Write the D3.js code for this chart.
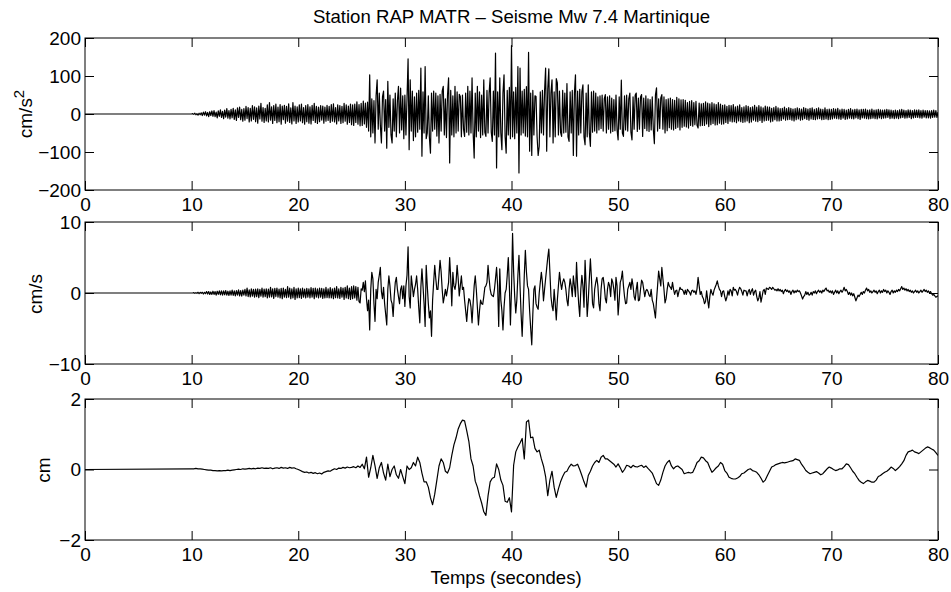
<!DOCTYPE html>
<html>
<head>
<meta charset="utf-8">
<script src="https://cdnjs.cloudflare.com/ajax/libs/d3/7.8.5/d3.min.js"></script>
<style>
  body { margin: 0; background: #fff; }
  svg { font-family: "Liberation Sans", Arial, sans-serif; }
</style>
</head>
<body>
<div class="seismo_area"></div>
<script>

var title = "Station RAP MATR \u2013 Seisme Mw 7.4 Martinique";
var xLabel = "Temps (secondes)";
var xTicks = [0, 10, 20, 30, 40, 50, 60, 70, 80];

// records are flat (0) before recordStart
var recordStart = 10;

// acceleration, cm/s2, one value every 0.1 s from 10 s
var accStep = 0.1;
var accTicks = [-200, -100, 0, 100, 200];
var accValues = [
  0,1,-1,2,-2,1,-3,2,-2,3,
  -4,5,-3,6,-5,4,-7,6,-4,8,
  -6,9,-7,5,-10,8,-6,11,-9,7,
  -12,10,-8,14,-11,9,-13,12,-10,15,
  -14,11,-17,16,-9,18,-15,12,-19,14,
  -16,20,-12,17,-21,15,-18,22,-14,19,
  -20,16,-24,21,-13,28,-19,17,-22,15,
  -18,24,-21,30,-16,19,-25,22,-17,26,
  -23,18,-20,25,-27,21,-15,23,-24,20,
  -19,27,-22,16,-26,30,-18,21,-25,19,
  -21,24,-18,26,-23,17,-27,22,-20,25,
  -24,19,-26,23,-17,28,-22,20,-25,18,
  -20,22,-16,21,-24,18,-19,23,-17,20,
  -22,25,-19,27,-21,17,-26,24,-18,22,
  -25,20,-23,28,-19,24,-27,21,-22,26,
  -28,24,-30,26,-22,32,-27,25,-31,28,
  -30,34,-26,29,-35,31,-45,103,-60,40,
  -50,35,-76,48,90,-40,55,-30,-76,45,
  60,-45,38,-90,86,-35,50,-55,-76,40,
  -45,55,-60,35,73,-50,68,-42,48,-65,
  50,-55,40,145,-94,90,-45,60,-70,45,
  -60,55,-48,62,-40,121,-111,58,-50,125,
  -65,-50,48,-62,-103,55,-45,60,-40,55,
  -58,48,-76,52,-45,60,73,-55,40,-62,
  50,95,-129,62,-55,48,-60,73,-50,58,
  -45,52,46,-60,50,-40,-59,55,-48,73,
  -55,60,-50,95,-48,-116,55,-60,73,-45,
  58,-62,50,-55,90,-48,-59,62,-50,55,
  95,-48,-72,60,-55,160,-142,58,-60,95,
  -50,-94,55,103,-60,-103,62,-55,70,-65,
  180,-60,58,-65,70,-50,125,-155,121,-55,
  60,-50,65,-58,72,-60,162,-98,55,-109,
  62,-55,48,46,-60,-109,-85,58,-50,62,
  -55,60,121,-98,65,119,-60,55,90,-76,
  58,-60,93,82,-55,60,-48,-59,62,-50,
  55,-48,80,-60,-72,58,-50,62,-109,55,
  103,-111,60,-55,65,-50,58,77,-60,-81,
  55,-60,77,-50,-85,58,-48,60,-45,55,
  -50,45,-42,48,-38,50,-45,40,51,-50,
  45,-40,48,-50,42,-46,38,-44,50,-42,
  -68,45,-40,89,-50,-59,48,-42,50,-45,
  40,55,-48,-68,45,-40,50,55,-46,42,
  -40,45,51,-59,42,-38,48,-44,40,-46,
  38,-42,45,-40,-78,50,69,-45,40,-38,
  42,51,-40,45,-50,38,-44,40,-36,42,
  -40,38,-42,36,-38,44,-35,40,-42,37,
  -35,38,-32,36,-34,30,-37,33,-30,35,
  -32,30,-28,33,-30,-37,29,-31,27,-30,
  28,-30,32,-26,29,-33,27,-28,30,-25,
  27,-29,25,-28,30,-24,26,-27,23,-26,
  24,-22,20,-25,23,-19,22,-21,25,-20,
  19,-23,21,-18,24,-20,17,-22,19,-21,
  22,-18,20,-23,17,-21,19,-16,23,-19,
  18,-20,22,-17,19,-22,16,-18,21,-17,
  19,-16,18,-21,15,-19,17,-15,20,-18,
  16,-18,14,-17,15,-13,18,-16,14,-15,
  17,-14,15,-16,13,-18,14,-15,16,-13,
  14,-16,13,-15,17,-12,15,-14,13,-16,
  15,-13,16,-14,12,-15,14,-13,16,-12,
  13,-15,12,-14,16,-13,12,-15,13,-14,
  12,-13,14,-11,13,-12,15,-13,11,-14,
  13,-11,12,-14,10,-13,12,-11,14,-12,
  11,-13,12,-10,13,-12,11,-14,12,-10,
  12,-11,13,-12,10,-13,11,-12,13,-11,
  10,-12,11,-13,12,-10,11,-12,10,-11,
  11,-10,12,-9,11,-12,10,-11,9,-12,
  10,-11,9,-12,11,-10,12,-9,10,-11,
  9,-10,11,-9,10,-12,9,-10,11,-9,
  10,-9,11,-10,9,-11,10,-8,9,-10,
  9,-10,8,-11,9,-9,10,-8,9,-9,
  5
];

// velocity, cm/s, one value every 0.1 s from 10 s
var velStep = 0.1;
var velTicks = [-10, 0, 10];
var velValues = [
  0,0,0.05,-0.05,0.05,-0.05,0.1,-0.1,0.1,-0.05,
  0.1,-0.15,0.1,-0.1,0.2,-0.15,0.2,-0.2,0.15,-0.2,
  0.25,-0.2,0.2,-0.3,0.25,-0.2,0.3,-0.25,0.3,-0.3,
  0.3,-0.25,0.35,-0.3,0.25,-0.35,0.3,-0.3,0.4,-0.35,
  0.3,-0.4,0.35,-0.3,0.45,-0.4,0.35,-0.45,0.4,-0.3,
  0.5,-0.4,0.7,-0.5,0.45,-0.55,0.6,-0.45,0.5,-0.6,
  0.55,-0.5,0.6,-0.65,0.5,-0.45,0.7,-0.6,0.55,-0.5,
  0.6,-0.7,0.55,-0.6,0.8,-0.55,0.6,-0.75,0.65,-0.5,
  0.7,-0.6,0.55,-0.7,0.65,-0.8,0.7,-0.6,0.5,-0.65,
  0.9,-0.6,0.7,-0.8,0.6,-0.7,0.8,-0.9,0.6,-0.7,
  0.7,-0.65,0.6,-0.75,0.7,-0.6,0.55,-0.7,0.65,-0.6,
  0.6,-0.7,0.75,-0.6,0.65,-0.8,0.7,-0.6,0.6,-0.7,
  0.7,-0.6,0.65,-0.75,0.6,-0.7,0.8,-0.65,0.6,-0.7,
  0.75,-0.7,0.6,-0.8,0.7,-0.65,0.9,-0.7,0.6,-0.75,
  0.8,-0.6,0.7,-0.9,0.8,-0.7,1.0,-0.8,0.7,-0.9,
  0.9,-0.8,1.0,-0.7,0.9,-1.0,0.8,-1.2,-1.4,0.6,
  0.4,1.5,0.2,1.7,-0.8,-2.5,-1.0,-5.2,0.5,2.9,
  2.0,-1.5,-4.0,0.5,-0.8,1.5,2.5,3.6,0.2,-0.8,
  0.8,-1.5,-3.0,-4.5,0.5,2.4,1.0,-1.0,-1.5,-3.3,
  -0.5,1.5,2.2,0.5,-0.5,-1.5,0.5,1.0,-0.8,1.0,
  -1.9,1.0,2.5,6.5,-0.5,-2.1,2.4,1.0,-0.5,0.5,
  1.2,2.4,0.5,-2.0,-4.2,0.8,3.4,1.0,-1.5,-4.7,
  3.9,1.0,-1.5,-3.5,-2.5,-6.1,-1.0,1.5,3.9,2.0,
  0.5,0.5,2.5,4.6,3.0,0.5,-1.4,-0.5,0.5,-0.4,
  0.5,1.5,5.0,2.0,-1.8,2.9,1.0,0.5,1.5,3.9,
  2.0,-0.4,1.0,2.4,0.5,0.8,-1.0,-2.5,-4.0,-2.0,
  -0.8,-1.0,-2.0,-4.2,-1.5,1.0,2.4,0.5,-2.0,-4.5,
  -2.5,-1.0,-1.5,-1.6,-0.5,0.8,1.0,1.5,3.9,2.0,
  0.5,-0.2,-0.4,-0.5,0.5,2.0,3.6,1.0,-4.7,3.4,
  -1.0,-2.5,-5.2,-2.0,0.0,0.5,2.5,5.0,1.0,-4.5,
  0.5,8.4,3.0,-0.5,-2.8,-1.0,2.5,5.3,1.0,-3.0,
  -6.1,-2.0,2.5,6.0,3.0,1.0,0.5,-2.5,-5.0,-7.3,
  -3.0,0.5,1.0,-1.5,-2.0,-2.3,0.0,1.5,2.9,1.5,
  -1.1,0.5,2.0,3.5,5.0,6.2,3.0,-0.5,-1.8,-2.5,
  0.5,-1.5,-3.8,-1.0,1.0,2.9,1.5,0.5,1.5,2.0,
  1.5,0.5,-1.0,-1.8,0.5,2.0,1.0,-0.5,2.4,1.0,
  -0.5,4.3,1.0,-1.5,-3.3,0.5,2.5,1.0,-2.0,4.6,
  1.0,-3.3,-1.0,2.0,4.8,2.0,-1.5,-2.1,0.5,1.5,
  2.2,1.0,-1.5,-2.5,0.5,2.0,2.2,1.0,-0.8,-1.4,
  0.5,1.5,1.0,-0.5,2.0,1.5,0.5,-1.0,2.2,1.0,
  -3.1,-1.0,1.5,2.0,3.1,1.0,-0.5,-1.5,-1.4,0.5,
  1.0,1.5,0.5,2.0,1.0,-0.5,-1.0,0.5,1.5,-1.1,
  -1.0,0.5,1.8,1.5,0.5,-0.5,0.3,0.5,0.2,-0.3,
  -0.5,0.5,-1.0,-1.5,-2.5,-3.5,-1.0,1.0,3.1,2.0,
  1.0,3.6,2.0,0.5,-1.4,-0.8,0.5,1.5,1.0,0.8,
  0.5,1.5,0.5,-0.2,0.3,0.4,-0.5,0.2,0.8,0.5,
  0.5,0.3,-0.2,0.4,-0.2,0.5,0.3,0.1,-0.3,0.3,
  0.4,0.1,0.3,-0.2,0.6,2.2,1.0,-0.2,0.2,-0.5,
  -0.8,-1.5,-1.2,0.3,-1.0,-2.1,-0.5,0.5,0.0,-0.3,
  0.4,0.8,1.2,1.7,1.0,0.5,0.3,-0.5,0.2,0.3,
  -0.5,-1.1,-0.6,0.3,-0.3,0.5,0.3,-0.4,0.8,0.4,
  0.5,0.2,-0.3,0.4,0.8,0.6,0.2,-0.3,0.4,0.3,
  0.3,-0.4,0.2,0.5,-0.2,0.3,0.6,-0.3,0.2,0.4,
  -0.5,-1.1,-0.7,0.2,-1.3,-0.5,0.3,0.5,-0.2,0.7,
  0.6,0.5,0.8,0.7,0.5,0.8,0.6,0.4,0.5,0.3,
  0.6,0.3,0.5,0.2,0.4,-0.1,0.3,0.5,0.2,0.4,
  0.1,0.3,-0.2,0.2,0.4,0.0,0.3,0.1,0.4,0.2,
  0.3,0.0,-0.4,-0.85,-0.5,-0.3,0.2,-0.2,0.1,-0.3,
  -0.2,0.1,-0.3,0.2,0.0,0.3,-0.1,0.2,0.4,0.1,
  0.3,0.0,0.4,0.2,0.5,0.7,0.3,0.4,0.1,0.3,
  0.0,0.3,-0.2,0.1,0.4,0.0,0.3,-0.1,0.2,0.4,
  0.1,0.4,0.8,0.3,0.5,0.2,-0.2,0.1,-0.3,0.0,
  -0.4,-0.1,-0.6,-1.1,-0.7,-0.3,-0.5,-0.2,0.1,-0.2,
  0.2,0.0,0.4,0.7,0.3,0.5,0.1,0.3,0.0,0.2,
  0.4,0.1,0.3,-0.1,0.2,0.4,0.0,0.3,0.1,0.5,
  0.2,0.4,0.0,0.3,0.1,-0.2,0.2,0.4,0.0,0.3,
  0.1,0.4,0.2,0.5,0.3,0.6,0.9,0.5,0.7,0.4,
  0.6,0.3,0.5,0.2,0.4,0.1,0.3,0.0,0.2,0.4,
  0.1,0.3,0.0,0.2,0.4,0.1,0.3,0.5,0.2,0.4,
  0.1,0.3,0.0,0.2,-0.1,-0.3,-0.2,-0.4,-0.6,-0.5,
  -0.4
];

// displacement, cm, one value every 0.2 s from 10 s
var dispStep = 0.2;
var dispTicks = [-2, 0, 2];
var dispValues = [
  0.02,0.02,0.03,0.02,0.02,
  0.01,0.0,-0.01,-0.02,-0.02,
  -0.03,-0.03,-0.04,-0.03,-0.04,
  -0.03,-0.03,-0.02,-0.03,-0.02,
  -0.01,0.0,0.01,0.0,0.02,
  0.01,0.02,0.03,0.02,0.03,
  0.02,0.04,0.03,0.05,0.03,
  0.04,0.03,0.05,0.02,0.04,
  0.05,0.03,0.06,0.04,0.05,
  0.03,0.06,0.04,0.05,0.02,
  0.0,-0.03,-0.06,-0.08,-0.07,
  -0.1,-0.08,-0.11,-0.09,-0.12,
  -0.1,-0.13,-0.08,-0.06,-0.04,
  -0.05,-0.01,0.02,0.0,0.04,
  0.03,0.06,0.04,0.07,0.05,
  0.06,0.08,0.05,0.1,0.06,
  0.15,0.02,0.35,-0.22,0.05,
  0.4,0.1,-0.25,0.05,0.2,
  -0.1,-0.3,0.15,-0.2,0.0,
  0.1,-0.15,-0.25,0.0,-0.2,
  -0.4,0.1,0.0,0.05,0.2,
  0.1,0.35,0.2,-0.1,-0.35,
  -0.35,-0.5,-0.8,-1.0,-0.7,
  -0.3,0.1,0.3,0.2,-0.05,
  -0.1,0.05,0.4,0.7,0.9,
  1.15,1.3,1.4,1.38,1.1,
  0.8,0.3,0.1,-0.33,-0.5,
  -0.75,-0.95,-1.2,-1.3,-0.75,
  -0.35,-0.25,-0.22,0.16,0.0,
  -0.3,-0.45,-0.9,-0.93,-0.8,
  -1.2,0.12,0.5,0.64,0.75,
  0.88,0.3,1.35,1.4,0.9,
  0.92,0.6,0.5,0.55,0.3,
  0.1,-0.2,-0.74,-0.3,-0.05,
  -0.5,-0.79,-0.55,-0.35,-0.2,
  -0.08,-0.05,0.07,0.15,0.1,
  0.11,0.15,0.0,-0.17,-0.35,
  -0.5,-0.17,-0.05,0.1,0.2,
  0.26,0.2,0.35,0.4,0.3,
  0.3,0.25,0.2,0.15,0.07,
  0.16,0.05,-0.08,0.0,0.12,
  0.1,0.05,0.12,0.08,0.07,
  0.1,0.12,0.06,0.1,0.03,
  -0.03,-0.1,-0.25,-0.4,-0.45,
  -0.3,-0.08,0.1,0.2,0.26,
  0.1,0.02,0.08,0.1,0.05,
  0.0,-0.12,-0.1,-0.08,-0.1,
  -0.08,0.05,0.2,0.25,0.35,
  0.33,0.25,0.2,0.05,-0.08,
  -0.02,0.05,0.1,0.2,0.15,
  -0.03,-0.1,-0.22,-0.25,-0.27,
  -0.27,-0.24,-0.2,-0.12,-0.1,
  -0.05,0.0,0.02,-0.03,-0.05,
  -0.08,-0.15,-0.25,-0.36,-0.3,
  -0.17,-0.05,0.07,0.1,0.14,
  0.16,0.18,0.2,0.19,0.2,
  0.22,0.24,0.25,0.3,0.28,
  0.26,0.15,0.07,-0.03,-0.08,
  -0.12,-0.1,-0.08,-0.06,-0.1,
  -0.15,-0.12,-0.05,0.02,0.07,
  0.04,0.0,-0.03,-0.01,0.02,
  0.02,0.08,0.16,0.14,0.05,
  -0.05,-0.12,-0.22,-0.31,-0.36,
  -0.4,-0.35,-0.31,-0.33,-0.36,
  -0.36,-0.3,-0.2,-0.17,-0.12,
  -0.08,-0.05,0.0,0.07,0.03,
  -0.03,0.02,0.08,0.16,0.25,
  0.4,0.5,0.52,0.55,0.5,
  0.48,0.45,0.5,0.55,0.6,
  0.64,0.62,0.58,0.55,0.48,
  0.4
];


var width = 951, height = 592;
var left = 85, right = 938, tick = 9;
var fmt = d3.format("~g");

var svg = d3.select(".seismo_area").append("svg")
    .attr("width", width)
    .attr("height", height);

var x = d3.scaleLinear().domain([0, 80]).range([left, right]);

var panels = [
  {top: 38, bottom: 190, values: accValues, step: accStep, ticks: accTicks, unit: "cm/s", sup: "2", labelX: 32, labelY: 114},
  {top: 222, bottom: 364, values: velValues, step: velStep, ticks: velTicks, unit: "cm/s", sup: "", labelX: 42, labelY: 294},
  {top: 399, bottom: 540, values: dispValues, step: dispStep, ticks: dispTicks, unit: "cm", sup: "", labelX: 50, labelY: 470}
];

function drawPanel(p, i) {
  var y = d3.scaleLinear()
      .domain([p.ticks[0], p.ticks[p.ticks.length - 1]])
      .range([p.bottom, p.top]);

  var g = svg.append("g").attr("class", "panel" + i);

  g.append("clipPath").attr("id", "clip" + i)
    .append("rect")
      .attr("x", left).attr("y", p.top)
      .attr("width", right - left).attr("height", p.bottom - p.top);

  // flat record before the trigger, then the samples
  var pts = [[0, 0]];
  p.values.forEach(function(v, k) {
    pts.push([recordStart + k * p.step, v]);
  });

  var line = d3.line()
      .x(function(d) { return x(d[0]); })
      .y(function(d) { return y(d[1]); });

  g.append("path")
      .datum(pts)
      .attr("clip-path", "url(#clip" + i + ")")
      .attr("fill", "none")
      .attr("stroke", "#000")
      .attr("stroke-width", 1.2)
      .attr("stroke-linejoin", "round")
      .attr("d", line);

  g.append("g")
      .attr("transform", "translate(0," + p.bottom + ")")
      .call(d3.axisBottom(x).tickValues(xTicks).tickSizeInner(-tick).tickSizeOuter(0).tickPadding(8));
  g.append("g")
      .attr("transform", "translate(0," + p.top + ")")
      .call(d3.axisTop(x).tickValues(xTicks).tickSizeInner(-tick).tickSizeOuter(0).tickFormat(""));
  g.append("g")
      .attr("transform", "translate(" + left + ",0)")
      .call(d3.axisLeft(y).tickValues(p.ticks).tickSizeInner(-tick).tickSizeOuter(0).tickPadding(4).tickFormat(fmt));
  g.append("g")
      .attr("transform", "translate(" + right + ",0)")
      .call(d3.axisRight(y).tickValues(p.ticks).tickSizeInner(-tick).tickSizeOuter(0).tickFormat(""));

  g.selectAll(".tick text")
      .style("font-size", "19px")
      .style("font-family", "Liberation Sans, Arial, sans-serif")
      .attr("fill", "#000");
  g.selectAll(".tick line").attr("stroke", "#000");
  g.selectAll(".domain").attr("stroke", "none");

  g.append("rect")
      .attr("x", left).attr("y", p.top)
      .attr("width", right - left).attr("height", p.bottom - p.top)
      .attr("fill", "none")
      .attr("stroke", "#000")
      .attr("stroke-width", 1);

  var lab = g.append("text")
      .attr("transform", "translate(" + p.labelX + "," + p.labelY + ") rotate(-90)")
      .attr("text-anchor", "middle")
      .style("font-size", "19px")
      .text(p.unit);
  if (p.sup) {
    lab.append("tspan")
        .attr("dy", -8)
        .style("font-size", "15px")
        .text(p.sup);
  }
}

panels.forEach(drawPanel);

svg.append("text")
    .attr("x", (left + right) / 2)
    .attr("y", 23)
    .attr("text-anchor", "middle")
    .style("font-size", "18.6px")
    .text(title);

svg.append("text")
    .attr("x", 506)
    .attr("y", 584)
    .attr("text-anchor", "middle")
    .style("font-size", "18.5px")
    .text(xLabel);

</script>
</body>
</html>
